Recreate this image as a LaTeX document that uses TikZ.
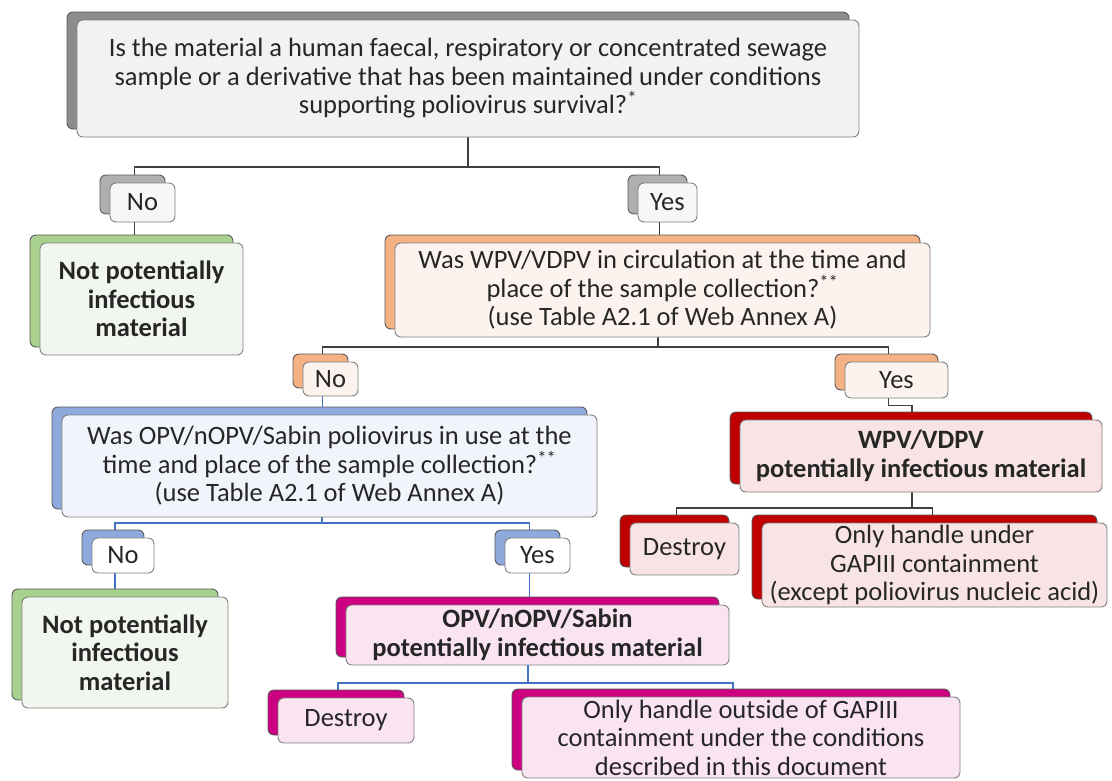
\documentclass[tikz,border=0pt]{standalone}
\usepackage{fontspec}
\setmainfont{Carlito}
\usetikzlibrary{shadows,backgrounds}
\definecolor{greyback}{HTML}{8C8C8C}
\definecolor{greyfill}{HTML}{F2F2F2}
\definecolor{greenback}{HTML}{A9D18E}
\definecolor{greenfill}{HTML}{F1F6EE}
\definecolor{orangeback}{HTML}{F4B183}
\definecolor{orangefill}{HTML}{FDF3EE}
\definecolor{blueback}{HTML}{8EA9DB}
\definecolor{bluefill}{HTML}{F1F4FA}
\definecolor{redback}{HTML}{C00000}
\definecolor{redfill}{HTML}{F8E4E4}
\definecolor{magback}{HTML}{CC0080}
\definecolor{magfill}{HTML}{FAE4F1}
\definecolor{blueline}{HTML}{4472C4}
\tikzset{box/.style={draw=black!50, rounded corners=6pt, align=center, inner sep=1pt, line width=0.9pt, text=black!85, font=\fontsize{26.5}{28.5}\selectfont}}
\tikzset{bbox/.style={box, font=\fontsize{26.5}{28.5}\selectfont\bfseries}}
\tikzset{back/.style={copy shadow={shadow xshift=-10pt, shadow yshift=8pt, fill=#1, draw=black!65, line width=0.9pt}}}
\tikzset{tree/.style={draw=black!75, line width=1.6pt}}
\tikzset{treeb/.style={draw=blueline, line width=1.4pt}}

\begin{document}
\begin{tikzpicture}[x=1pt,y=-1pt]
	\useasboundingbox (0,0) rectangle (1112,780);
	% question boxes
	\node[box, back=greyback, fill=greyfill, minimum width=782pt, minimum height=117pt] (q1) at (468,78.5) {Is the material a human faecal, respiratory or concentrated sewage\\sample or a derivative that has been maintained under conditions\\supporting poliovirus survival?\textsuperscript{*}};
	\node[box, back=orangeback, fill=orangefill, minimum width=535pt, minimum height=94pt] (q2) at (662.5,290) {Was WPV/VDPV in circulation at the time and\\place of the sample collection?\textsuperscript{**}\\(use Table A2.1 of Web Annex A)};
	\node[box, back=blueback, fill=bluefill, minimum width=535pt, minimum height=102pt] (q3) at (329.5,466) {Was OPV/nOPV/Sabin poliovirus in use at the\\time and place of the sample collection?\textsuperscript{**}\\(use Table A2.1 of Web Annex A)};
	% answer labels
	\node[box, back=greyback!70, fill=white!97!black, minimum width=65pt, minimum height=39pt] (no1) at (142.5,202.5) {No};
	\node[box, back=greyback!70, fill=white!97!black, minimum width=59pt, minimum height=39pt] (yes1) at (667.5,202.5) {Yes};
	\node[box, back=orangeback, fill=orangefill, minimum width=55pt, minimum height=34pt] (no2) at (330.5,379) {No};
	\node[box, back=orangeback, fill=orangefill, minimum width=103pt, minimum height=36pt] (yes2) at (896.5,380) {Yes};
	\node[box, back=blueback, fill=white, minimum width=62pt, minimum height=35pt] (no3) at (123,555.5) {No};
	\node[box, back=blueback, fill=white, minimum width=65pt, minimum height=35pt] (yes3) at (537.5,555.5) {Yes};
	% outcomes
	\node[bbox, back=greenback, fill=greenfill, minimum width=203pt, minimum height=112pt] (safe1) at (141.5,299) {Not potentially\\infectious\\material};
	\node[bbox, back=greenback, fill=greenfill, minimum width=206pt, minimum height=111pt] (safe2) at (125,652.5) {Not potentially\\infectious\\material};
	\node[bbox, back=redback, fill=redfill, minimum width=362pt, minimum height=72pt] (wpv) at (921,456) {WPV/VDPV\\potentially infectious material};
	\node[box, back=redback, fill=redfill, minimum width=109pt, minimum height=52pt] (wpvdes) at (684.5,549) {Destroy};
	\node[box, back=redback, fill=redfill, minimum width=345pt, minimum height=84pt] (wpvgap) at (934.5,565) {Only handle under\\GAPIII containment\\(except poliovirus nucleic acid)};
	\node[bbox, back=magback, fill=magfill, minimum width=383pt, minimum height=60pt] (opv) at (537.5,635) {OPV/nOPV/Sabin\\potentially infectious material};
	\node[box, back=magback, fill=magfill, minimum width=136pt, minimum height=45pt] (opvdes) at (346,720.5) {Destroy};
	\node[box, back=magback, fill=magfill, minimum width=438pt, minimum height=81pt] (opvout) at (741,737.5) {Only handle outside of GAPIII\\containment under the conditions\\described in this document};

	% connectors
	\coordinate (b1) at (468,167);
	\coordinate (b2) at (658,347);
	\coordinate (b3) at (912,508);
	\coordinate (b4) at (322,523);
	\coordinate (b5) at (528,683);
	\begin{scope}[on background layer]
	\draw[tree] (q1.south -| b1) -- (b1);
	\draw[tree] ([xshift=-8pt]no1.north) |- (b1) -| ([xshift=-8pt]yes1.north);
	\draw[tree] ([xshift=-8pt]no1.south) -- ([xshift=-8pt]no1.south |- safe1.north);
	\draw[tree] ([xshift=-8pt]yes1.south) -- ([xshift=-8pt]yes1.south |- q2.north);
	\draw[tree] (q2.south -| b2) -- (b2);
	\draw[tree] ([xshift=-8pt]no2.north) |- (b2) -| ([xshift=-8pt]yes2.north);
	\draw[tree] ([xshift=-8pt]yes2.south) -- ++(0,7) -| ([xshift=-9pt]wpv.north);
	\draw[tree] (wpv.south -| b3) -- (b3);
	\draw[tree] ([xshift=-8pt]wpvdes.north) |- (b3) -| ([xshift=-2pt]wpvgap.north);
	\draw[treeb] ([xshift=-8pt]no2.south) -- ([xshift=-8pt]no2.south |- q3.north);
	\draw[treeb] (q3.south -| b4) -- (b4);
	\draw[treeb] ([xshift=-8pt]no3.north) |- (b4) -| ([xshift=-8pt]yes3.north);
	\draw[treeb] ([xshift=-8pt]no3.south) -- ([xshift=-8pt]no3.south |- safe2.north);
	\draw[treeb] ([xshift=-8pt]yes3.south) -- ([xshift=-8pt]yes3.south |- opv.north);
	\draw[treeb] (opv.south -| b5) -- (b5);
	\draw[treeb] ([xshift=-8pt]opvdes.north) |- (b5) -| ([xshift=-8pt]opvout.north);
	\end{scope}
\end{tikzpicture}
\end{document}
